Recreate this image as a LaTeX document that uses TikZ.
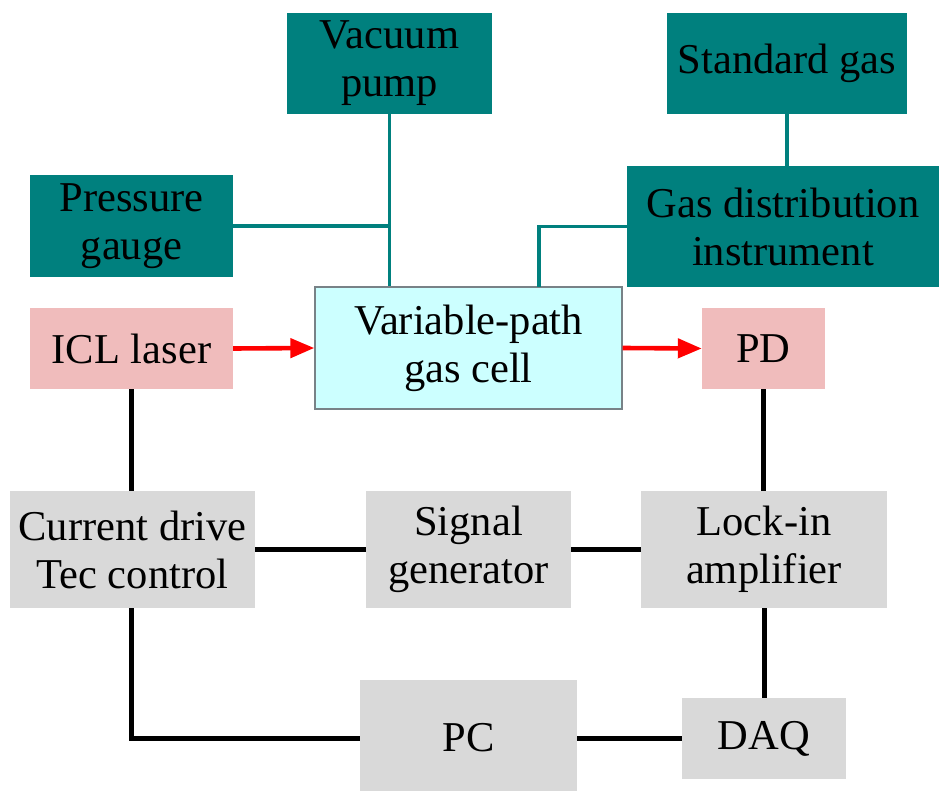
\documentclass[tikz,border=0pt]{standalone}
\usepackage{fontspec}
\setmainfont{Liberation Serif}
\usetikzlibrary{arrows.meta}
\definecolor{tealbox}{RGB}{0,128,126}
\definecolor{pinkbox}{RGB}{240,188,188}
\definecolor{cyanbox}{RGB}{204,255,255}
\definecolor{graybox}{RGB}{217,217,217}
\definecolor{cellborder}{RGB}{120,130,135}
\tikzset{
  boxbase/.style={rectangle, inner sep=0pt, align=center, font=\fontsize{42.5}{48}\selectfont},
  tealnode/.style={boxbase, fill=tealbox},
  pinknode/.style={boxbase, fill=pinkbox},
  graynode/.style={boxbase, fill=graybox},
  cellnode/.style={boxbase, fill=cyanbox, draw=cellborder, line width=1.3pt},
  gasline/.style={draw=tealbox, line width=3.8pt},
  sigline/.style={draw=black, line width=5pt},
  beam/.style={draw=red, line width=4.6pt, -{Triangle[length=24pt,width=19pt]}},
}
\begin{document}
\begin{tikzpicture}[x=1pt,y=-1pt]
\useasboundingbox (0,0) rectangle (939,791);
\fill[white] (0,0) rectangle (939,791);

\node[tealnode, minimum width=205pt, minimum height=101pt] (vac) at (389.5,63.5) {Vacuum\\pump};
\node[tealnode, minimum width=240pt, minimum height=101pt] (std) at (787,63.5) {Standard gas};
\node[tealnode, minimum width=203pt, minimum height=102pt] (pg) at (131.5,226) {Pressure\\gauge};
\node[tealnode, minimum width=312pt, minimum height=121pt] (gd) at (783,226.5) {Gas distribution\\instrument};
\node[pinknode, minimum width=203pt, minimum height=81pt] (laser) at (131.5,348.5) {ICL laser};
\node[cellnode, minimum width=307pt, minimum height=122pt] (cell) at (468.5,348) {Variable-path\\gas cell};
\node[pinknode, minimum width=123pt, minimum height=81pt] (pd) at (763.5,348.5) {PD};
\node[graynode, minimum width=245pt, minimum height=117pt] (cur) at (132.5,549.5) {Current drive\\Tec control};
\node[graynode, minimum width=205pt, minimum height=117pt] (sig) at (468.5,549.5) {Signal\\generator};
\node[graynode, minimum width=246pt, minimum height=117pt] (lock) at (764,549.5) {Lock-in\\amplifier};
\node[graynode, minimum width=217pt, minimum height=116pt] (pc) at (468.5,738) {PC};
\node[graynode, minimum width=164pt, minimum height=81pt] (daq) at (764,738.5) {DAQ};

\coordinate (cellin) at (539,287);

\draw[gasline] (vac.south) -- (vac.south |- cell.north);
\draw[gasline] (pg.east) -- (pg.east -| vac.south);
\draw[gasline] (std.south) -- (std.south |- gd.north);
\draw[gasline] (gd.west) -| (cellin);

\draw[beam] (laser.east) -- (cell.west);
\draw[beam] (cell.east) -- (pd.west);

\draw[sigline] (laser.south) -- (laser.south |- cur.north);
\draw[sigline] (cur.east) -- (sig.west);
\draw[sigline] (sig.east) -- (sig.east -| lock.west);
\draw[sigline] (pd.south) -- (pd.south |- lock.north);
\draw[sigline] (lock.south) -- (lock.south |- daq.north);
\draw[sigline] (daq.west) -- (daq.west -| pc.east);
\draw[sigline] (laser.south |- cur.south) |- (pc.west);
\end{tikzpicture}
\end{document}
